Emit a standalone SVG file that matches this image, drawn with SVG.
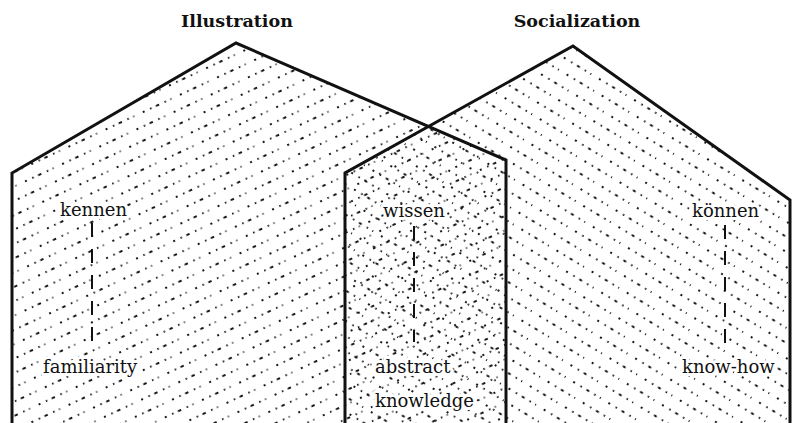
<svg xmlns="http://www.w3.org/2000/svg" width="792" height="423" viewBox="0 0 792 423">
<style>
.house{stroke:#111;stroke-width:3;stroke-linejoin:miter}
.dots line{stroke:#1a1a1a;stroke-width:1.9}
.title{font-family:"DejaVu Serif","Liberation Serif",serif;font-weight:bold;font-size:17.5px;fill:#111;text-anchor:middle}
.lbl{font-family:"DejaVu Serif","Liberation Serif",serif;font-size:18px;fill:#111;stroke:#fff;stroke-width:6;stroke-linejoin:round;paint-order:stroke}
.conn{stroke:#111;stroke-width:2;stroke-dasharray:14 12;fill:none}
</style>
<defs>
<pattern id="hatchL" patternUnits="userSpaceOnUse" width="246" height="52" patternTransform="rotate(-25)">
<g class="dots">
<line x1="0" y1="6" x2="246" y2="6" stroke-dasharray="2 6 1.5 5 3.5 6 1.5 5 1 9.5" stroke-dashoffset="0"/>
<line x1="0" y1="19" x2="246" y2="19" stroke-dasharray="2 6 1.5 5 3.5 6 1.5 5 1 9.5" stroke-dashoffset="13"/>
<line x1="0" y1="32" x2="246" y2="32" stroke-dasharray="2 6 1.5 5 3.5 6 1.5 5 1 9.5" stroke-dashoffset="27"/>
<line x1="0" y1="45" x2="246" y2="45" stroke-dasharray="2 6 1.5 5 3.5 6 1.5 5 1 9.5" stroke-dashoffset="6"/>
</g>
</pattern>
<pattern id="hatchR" patternUnits="userSpaceOnUse" width="246" height="52" patternTransform="rotate(31)">
<g class="dots">
<line x1="0" y1="6" x2="246" y2="6" stroke-dasharray="2 6.5 1.5 5.5 3 6 1.5 5 1 9" stroke-dashoffset="3"/>
<line x1="0" y1="19" x2="246" y2="19" stroke-dasharray="2 6.5 1.5 5.5 3 6 1.5 5 1 9" stroke-dashoffset="20"/>
<line x1="0" y1="32" x2="246" y2="32" stroke-dasharray="2 6.5 1.5 5.5 3 6 1.5 5 1 9" stroke-dashoffset="9"/>
<line x1="0" y1="45" x2="246" y2="45" stroke-dasharray="2 6.5 1.5 5.5 3 6 1.5 5 1 9" stroke-dashoffset="31"/>
</g>
</pattern>
</defs>
<rect width="792" height="423" fill="#fff"/>
<g id="illustration">
<polygon class="house" points="12,428 12,173 236,43 506,160 506,428" fill="url(#hatchL)"/>
<text class="title" x="237" y="27">Illustration</text>
</g>
<g id="socialization">
<polygon class="house" points="345,428 345,173 573,46 790,200 790,428" fill="url(#hatchR)"/>
<text class="title" x="577" y="27">Socialization</text>
</g>
<g id="kennen"><text class="lbl" x="60" y="216">kennen</text></g>
<g id="familiarity"><text class="lbl" x="43" y="373">familiarity</text></g>
<g id="wissen"><text class="lbl" x="383" y="217">wissen</text></g>
<g id="abstract-knowledge"><text class="lbl" x="375" y="373">abstract</text><text class="lbl" x="375" y="407">knowledge</text></g>
<g id="koennen"><text class="lbl" x="692" y="217">können</text></g>
<g id="know-how"><text class="lbl" x="682" y="373">know-how</text></g>
<g id="connectors">
<line class="conn" x1="92" y1="223" x2="92" y2="343"/>
<line class="conn" x1="414" y1="226" x2="414" y2="342"/>
<line class="conn" x1="725" y1="225" x2="725" y2="343"/>
</g>
</svg>
